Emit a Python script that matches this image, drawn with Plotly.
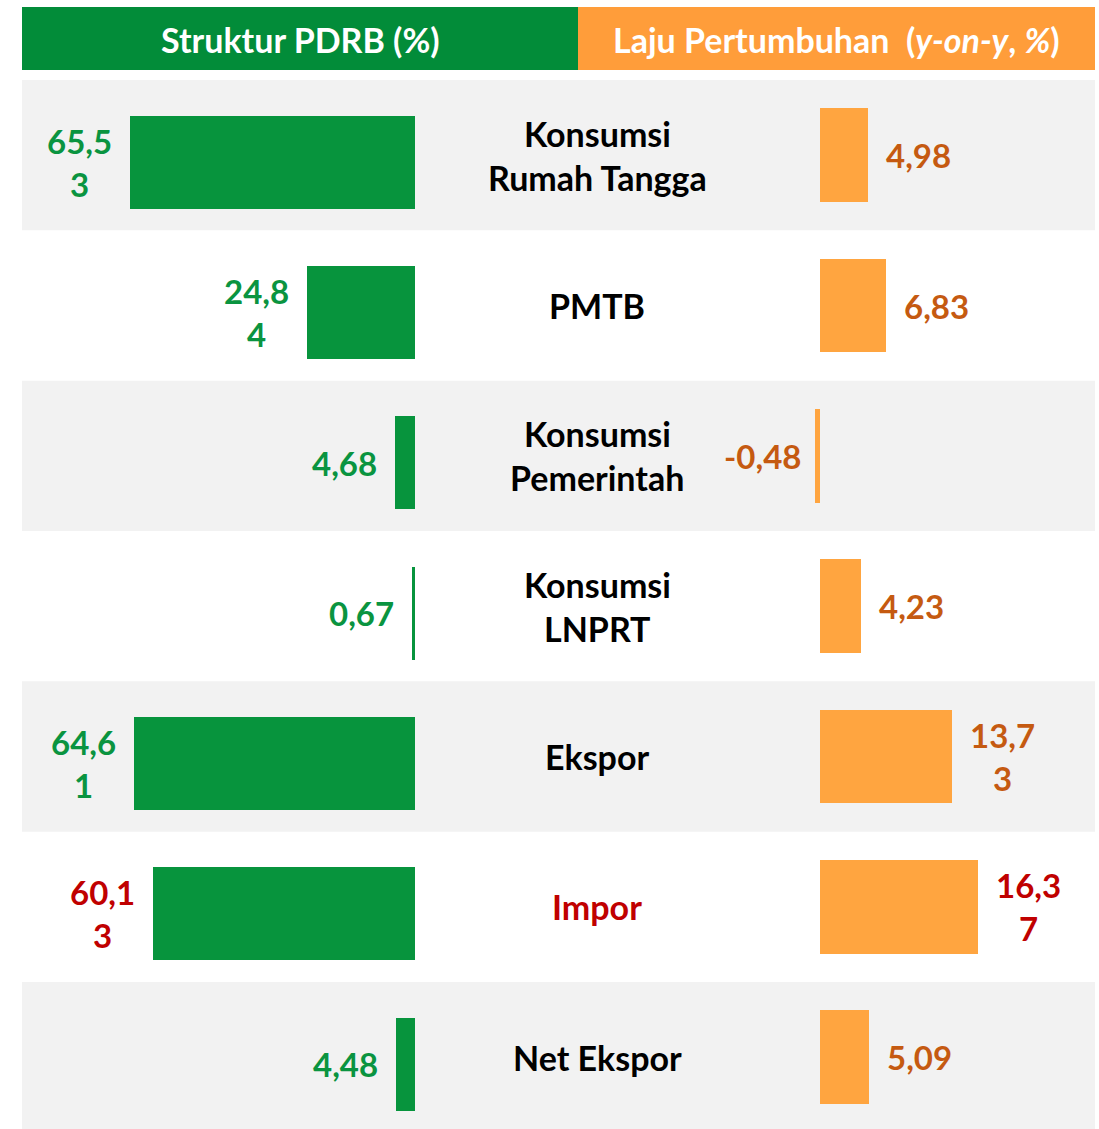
import plotly.graph_objects as go

categories = ["Konsumsi\nRumah Tangga", "PMTB", "Konsumsi\nPemerintah", "Konsumsi\nLNPRT",
              "Ekspor", "Impor", "Net Ekspor"]
struktur = [65.53, 24.84, 4.68, 0.67, 64.61, 60.13, 4.48]
laju = [4.98, 6.83, -0.48, 4.23, 13.73, 16.37, 5.09]
header_left = "Struktur PDRB (%)"
header_right = "Laju Pertumbuhan  (<i>y-on-y</i>, <i>%</i>)"
highlight = "Impor"

W, H = 1099, 1129
GREEN_HDR = "#028C39"
GREEN_BAR = "#07943D"
GREEN_TXT = "#0A9440"
ORANGE_HDR = "#FF9D3A"
ORANGE_BAR = "#FFA540"
ORANGE_TXT = "#C55A11"
RED_TXT = "#C00000"
GRAY = "#F2F2F2"
FONT = "Lato"


def fmt(v):
    return f"{v:.2f}".replace(".", ",")


def wrap(v, n=4):
    s = fmt(v)
    if abs(v) < 10:
        return s
    return s[:n] + "<br>" + s[n:]


def px2fx(px):
    return px / W


def py2fy(py):
    return 1 - py / H


fig = go.Figure()

# left bars (Struktur)
fig.add_trace(go.Bar(
    y=categories, x=struktur, orientation="h", xaxis="x", yaxis="y2",
    marker=dict(color=GREEN_BAR, line=dict(width=0)), width=0.62,
    hoverinfo="x+y", showlegend=False,
))
# right bars (Laju)
fig.add_trace(go.Bar(
    y=categories, x=laju, orientation="h", xaxis="x2", yaxis="y",
    marker=dict(color=ORANGE_BAR, line=dict(width=0)), width=0.625,
    hoverinfo="x+y", showlegend=False,
))

shapes = []
top_px = 80
row_h = 150.33
ncat = len(categories)
for i in range(ncat):
    if i % 2 == 0:
        shapes.append(dict(type="rect", xref="paper", yref="paper",
                           x0=px2fx(22), x1=px2fx(1095),
                           y0=max(0, py2fy(top_px + row_h * (i + 1))), y1=py2fy(top_px + row_h * i),
                           fillcolor=GRAY, line=dict(width=0), layer="below"))
shapes.append(dict(type="rect", xref="paper", yref="paper", x0=px2fx(22), x1=px2fx(578),
                   y0=py2fy(70), y1=py2fy(7), fillcolor=GREEN_HDR, line=dict(width=0), layer="below"))
shapes.append(dict(type="rect", xref="paper", yref="paper", x0=px2fx(578), x1=px2fx(1095),
                   y0=py2fy(70), y1=py2fy(7), fillcolor=ORANGE_HDR, line=dict(width=0), layer="below"))

ann = []
ann.append(dict(text=header_left, xref="paper", yref="paper", x=px2fx(300), y=py2fy(40),
                xanchor="center", yanchor="middle", showarrow=False,
                font=dict(family=FONT, size=34, color="white", weight="bold")))
ann.append(dict(text=header_right, xref="paper", yref="paper", x=px2fx(836), y=py2fy(40),
                xanchor="center", yanchor="middle", showarrow=False,
                font=dict(family=FONT, size=34, color="white", weight="bold")))

for cat, s, l in zip(categories, struktur, laju):
    is_hl = cat == highlight
    lines = cat.split("\n")
    n = len(lines)
    for j, line in enumerate(lines):
        ann.append(dict(text=line, xref="paper", yref="y", x=px2fx(597), y=cat,
                        yshift=-((j - (n - 1) / 2) * 44), xanchor="center", yanchor="middle",
                        showarrow=False,
                        font=dict(family=FONT, size=34, color=RED_TXT if is_hl else "black",
                                  weight="bold")))
    ann.append(dict(text=wrap(s), xref="x", yref="y2", x=s, y=cat, xshift=-16,
                    xanchor="right", yanchor="middle", align="center", showarrow=False,
                    font=dict(family=FONT, size=33, color=RED_TXT if is_hl else GREEN_TXT,
                              weight="bold")))
    if l >= 0:
        ann.append(dict(text=wrap(l), xref="x2", yref="y", x=l, y=cat, xshift=16,
                        xanchor="left", yanchor="middle", align="center", showarrow=False,
                        font=dict(family=FONT, size=33, color=RED_TXT if is_hl else ORANGE_TXT,
                                  weight="bold")))
    else:
        ann.append(dict(text=wrap(l), xref="x2", yref="y", x=l, y=cat, xshift=-12,
                        xanchor="right", yanchor="middle", align="center", showarrow=False,
                        font=dict(family=FONT, size=33, color=RED_TXT if is_hl else ORANGE_TXT,
                                  weight="bold")))

left_px_per_unit = 4.35
right_px_per_unit = 9.65
left_dom = (22, 415)
right_dom = (578, 1095)
right_origin = 820
visible_units = (H - top_px) / row_h
shift_units = 7 / row_h

axis_common = dict(showgrid=False, zeroline=False, showticklabels=False, showline=False,
                   ticks="", fixedrange=True)

fig.update_layout(
    width=W, height=H,
    margin=dict(l=0, r=0, t=0, b=0),
    paper_bgcolor="white", plot_bgcolor="rgba(0,0,0,0)",
    bargap=0,
    xaxis=dict(domain=[px2fx(left_dom[0]), px2fx(left_dom[1])],
               range=[(left_dom[1] - left_dom[0]) / left_px_per_unit, 0], anchor="y2", **axis_common),
    xaxis2=dict(domain=[px2fx(right_dom[0]), px2fx(right_dom[1])],
                range=[-(right_origin - right_dom[0]) / right_px_per_unit,
                       (right_dom[1] - right_origin) / right_px_per_unit], anchor="y", **axis_common),
    yaxis=dict(domain=[0, py2fy(top_px)], type="category", categoryorder="array",
               categoryarray=categories, range=[-0.5 + visible_units, -0.5], anchor="x2",
               **axis_common),
    yaxis2=dict(domain=[0, py2fy(top_px)], type="category", categoryorder="array",
                categoryarray=categories,
                range=[-0.5 + visible_units - shift_units, -0.5 - shift_units],
                anchor="x", **axis_common),
    shapes=shapes,
    annotations=ann,
    font=dict(family=FONT),
)

fig.write_html("out.html", config={"displayModeBar": False},
               post_script="document.body.style.margin='0';")
